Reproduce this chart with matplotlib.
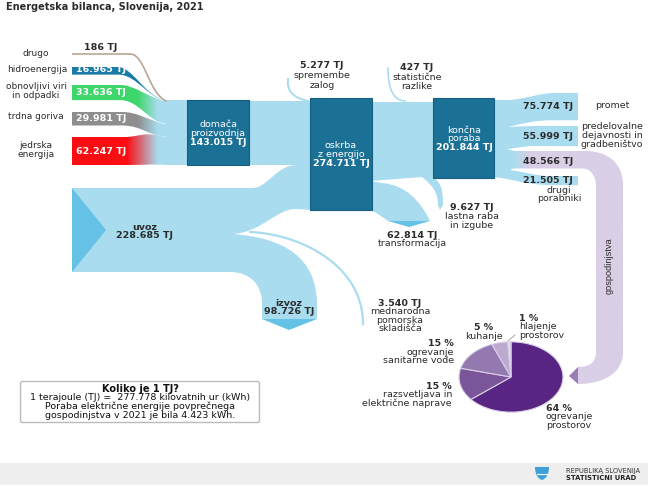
import numpy as np
import matplotlib
matplotlib.use('Agg')
import matplotlib.pyplot as plt
from matplotlib.path import Path
from matplotlib.patches import PathPatch, Rectangle, FancyBboxPatch
from matplotlib.colors import to_rgb

# Values in TJ
source_names = ['hidroenergija', 'obnovljivi viri\nin odpadki', 'trdna goriva', 'jedrska\nenergija']
source_values = [16965, 33636, 29981, 62247]
source_colors = ['#1a7ca6', '#3ed66b', '#8e8e8e', '#fb0d12']
other_value = 186
domestic = 143015
imports = 228685
exports = 98726
supply = 274711
final_use = 201844
stock_change = 5277
stat_diff = 427
transformation = 62814
own_use = 9627
bunkers = 3540
use_names = ['promet', 'predelovalne', 'gospodinjstva', 'drugi']
use_values = [75774, 55999, 48566, 21505]
pie_values = [64, 15, 15, 5, 1]
pie_colors = ['#592583', '#7a5599', '#9478b0', '#bcaad0', '#e2daec']

LIGHT = '#a9dcef'
MID = '#65c2e6'
BOX = '#1b7096'
PURPLE = '#d9cfe6'
TXT = '#2b2b2b'
SRC_SCALE = 0.00045
USE_SCALE = 0.00036

M, L, C, Z = Path.MOVETO, Path.LINETO, Path.CURVE4, Path.CLOSEPOLY

plt.rcParams['font.family'] = ['DejaVu Sans']
fig = plt.figure(figsize=(6.48, 4.86), dpi=100)
ax = fig.add_axes([0, 0, 1, 1])
ax.set_xlim(0, 648)
ax.set_ylim(486, 0)
ax.axis('off')


def tj(v):
    return f'{v:,}'.replace(',', '.') + ' TJ'


def shape(*segs, color=LIGHT, z=1):
    # segs: (x, y) line point, or three points for a cubic
    verts, codes = [], []
    for s in segs:
        if isinstance(s[0], tuple):
            verts += list(s)
            codes += [C, C, C]
        else:
            verts.append(s)
            codes.append(L if verts[:-1] else M)
    verts.append(verts[0])
    codes.append(Z)
    p = PathPatch(Path(verts, codes), fc=color, ec='none', lw=0, zorder=z)
    ax.add_patch(p)
    return p


def fade(patch, x0, x1, c0, c1, xa, xb, z=1):
    # horizontal colour fade clipped to a band
    cols = np.array([to_rgb(c0), to_rgb(c1)])
    t = np.clip((np.linspace(x0, x1, 200) - xa) / (xb - xa), 0, 1)[None, :, None]
    img = cols[0] * (1 - t) + cols[1] * t
    ys = patch.get_path().vertices[:, 1]
    im = ax.imshow(img, extent=(x0, x1, ys.max(), ys.min()),
                   aspect='auto', zorder=z, interpolation='bilinear')
    im.set_clip_path(patch)
    patch.set_facecolor('none')


def label(x, y, s, bold=False, color=TXT, size=6.8, ha='center'):
    ax.text(x, y, s, ha=ha, va='center', color=color, fontsize=size,
            fontweight='bold' if bold else 'normal', linespacing=1.0)


# footer
ax.add_patch(Rectangle((0, 463), 648, 22, fc='#eeeeee', ec='none', zorder=0))

# source bands
tops = [67, 85, 112, 137]
ends = [(100, 101), (101, 124), (124, 137), (137, 165)]
flats = [118, 120, 122, 125]
for v, col, top, (e0, e1), xf in zip(source_values, source_colors, tops, ends, flats):
    h = v * SRC_SCALE
    xe = 168
    p = shape((72, top), (xf, top),
              ((xf + 14, top), (xe - 24, e0 - 6), (xe - 4, e0)), (190, e0), (190, e1), (xe, e1),
              ((xe - 20, e1 - 1), (xf + 20, top + h), (xf, top + h)), (72, top + h))
    fade(p, 72, 190, col, LIGHT, 127 if v > 60000 else 138, 158)

# thin "drugo" line
ax.plot([72, 130], [54, 54], color='#b9a796', lw=1.2, zorder=2, solid_capstyle='butt')
t = np.linspace(0, 1, 40)
bx = (1 - t)**3 * 130 + 3 * (1 - t)**2 * t * 145 + 3 * (1 - t) * t**2 * 148 + t**3 * 166
by = (1 - t)**3 * 54 + 3 * (1 - t)**2 * t * 54 + 3 * (1 - t) * t**2 * 92 + t**3 * 101
ax.plot(bx, by, color='#b9a796', lw=1.2, zorder=2)

# main flows
shape((168, 101), (310, 101), (310, 165), (168, 165))
# imports, with the branch to exports
shape((72, 188), (252, 188), ((268, 188), (276, 165), (297, 165)), (312, 165), (312, 210), (296, 209),
      ((276, 209), (262, 232), (233, 234)),
      ((285, 238), (317, 258), (317, 305)), (317, 319), (262, 319), (262, 303),
      ((262, 285), (250, 272), (230, 272)), (72, 272))
shape((72, 188), (106, 230), (72, 272), color=MID, z=2)
shape((262, 319), (317, 319), (289, 330), color=MID, z=2)

# bunkers line
bu = np.linspace(0, 1, 50)
mx = (1 - bu)**3 * 250 + 3 * (1 - bu)**2 * bu * 300 + 3 * (1 - bu) * bu**2 * 363 + bu**3 * 363
my = (1 - bu)**3 * 232 + 3 * (1 - bu)**2 * bu * 234 + 3 * (1 - bu) * bu**2 * 265 + bu**3 * 324
ax.plot(mx, my, color=LIGHT, lw=1.6, zorder=1)

# stock change and statistical thin lines
ax.plot(*zip(*[(288, 79), (288, 84)]), color=LIGHT, lw=1.5, zorder=1)
s = np.linspace(0, 1, 30)
ax.plot((1 - s)**2 * 288 + 2 * (1 - s) * s * 289 + s**2 * 308,
        (1 - s)**2 * 84 + 2 * (1 - s) * s * 97 + s**2 * 101, color=LIGHT, lw=1.5, zorder=1)
ax.plot((1 - s)**2 * 388 + 2 * (1 - s) * s * 388 + s**2 * 405,
        (1 - s)**2 * 68 + 2 * (1 - s) * s * 100 + s**2 * 101, color=LIGHT, lw=1.2, zorder=1)

# supply to final use
shape((370, 102), (435, 102), (435, 178), (423, 177), (383, 180), (370, 181))
shape((370, 181), (382, 183), ((405, 185), (420, 200), (430, 221)), (388, 221), ((382, 217), (376, 212), (370, 210)))
shape((388, 221), (430, 221), (409, 227), color=MID, z=2)
shape((422, 176), (431, 176), ((441, 182), (443, 188), (443, 205)), (440, 210), (438, 205),
      ((438, 192), (432, 185), (422, 177)))

# final use fan
h_tr, h_in, h_hh, h_ot = [v * USE_SCALE for v in use_values]
shape((492, 100), (510, 100), ((530, 98), (540, 93), (555, 93)), (578, 93), (578, 93 + h_tr),
      (555, 93 + h_tr), ((535, 120), (525, 123), (508, 127)),
      ((520, 126.5), (525, 126), (535, 126)), (578, 126), (578, 126 + h_in), (530, 146), (507, 149),
      (514, 151), (514, 168), (510, 170), ((525, 172), (535, 176), (550, 176)), (578, 176), (578, 176 + h_ot + 1.5),
      (550, 185), ((525, 185), (510, 178), (492, 177)))
hh = shape((512, 151), (585, 151), ((610, 151), (623, 165), (623, 185)), (623, 352),
           ((623, 372), (605, 384), (578, 384)), (578, 367),
           ((590, 367), (596, 362), (596, 352)), (596, 186),
           ((596, 175), (590, 151 + h_hh), (582, 151 + h_hh)), (512, 151 + h_hh), color=PURPLE, z=2)
fade(hh, 512, 623, LIGHT, PURPLE, 512, 530, z=2)
shape((578, 367), (578, 384), (569, 376), color='#9a7db5', z=2)

# boxes
for x0, x1, y0, y1 in [(187, 249, 100, 165), (310, 372, 98, 210), (433, 494, 98, 178)]:
    ax.add_patch(Rectangle((x0, y0), x1 - x0, y1 - y0, fc=BOX, ec='#175f80', lw=0.8, zorder=3))

# labels
label(101, 47.5, tj(other_value), True)
label(36, 54, 'drugo', size=6.5)
label(76, 70, tj(source_values[0]), True, 'white', ha='left')
label(37, 70, source_names[0], size=6.5)
label(76, 92.5, tj(source_values[1]), True, 'white', ha='left')
label(36, 91, source_names[1], size=6.5)
label(76, 118.5, tj(source_values[2]), True, 'white', ha='left')
label(36, 116, source_names[2], size=6.5)
label(76, 151, tj(source_values[3]), True, 'white', ha='left')
label(36, 149.5, source_names[3], size=6.5)

label(218, 124, 'domača', color='white')
label(218, 133, 'proizvodnja', color='white')
label(218, 142, tj(domestic), True, 'white')
label(341, 145.5, 'oskrba', color='white')
label(341, 154, 'z energijo', color='white')
label(341, 163, tj(supply), True, 'white')
label(464, 130, 'končna', color='white')
label(464, 138.5, 'poraba', color='white')
label(464, 147, tj(final_use), True, 'white')

label(322, 66, tj(stock_change), True)
label(322, 75.5, 'spremembe')
label(322, 85, 'zalog')
label(417, 68, tj(stat_diff), True)
label(417, 77.5, 'statistične')
label(417, 86.5, 'razlike')
label(548, 106, tj(use_values[0]), True)
label(612, 105, use_names[0])
label(548, 136, tj(use_values[1]), True)
label(612, 126.5, 'predelovalne')
label(612, 135.5, 'dejavnosti in')
label(612, 144, 'gradbeništvo')
label(548, 161, tj(use_values[2]), True)
label(548, 180, tj(use_values[3]), True)
label(559, 190, 'drugi')
label(559, 198.5, 'porabniki')
label(472, 207, tj(own_use), True)
label(472, 216, 'lastna raba')
label(472, 225, 'in izgube')
label(412, 235, tj(transformation), True)
label(412, 243.5, 'transformacija')
label(145, 227, 'uvoz', True)
label(145, 235.5, tj(imports), True)
label(289, 303, 'izvoz', True)
label(289, 311, tj(exports), True)
label(400, 303, tj(bunkers), True)
label(400, 311.5, 'mednarodna')
label(400, 320, 'pomorska')
label(400, 328.5, 'skladišča')
ax.text(609, 266, 'gospodinjstva', rotation=90, ha='center', va='center', fontsize=6.6,
        color=TXT, family='Liberation Sans', zorder=5)

# pie labels
label(519, 318, f'{pie_values[4]} %', True, ha='left')
label(519, 326.5, 'hlajenje', ha='left')
label(519, 335, 'prostorov', ha='left')
label(484, 327, f'{pie_values[3]} %', True)
label(484, 336, 'kuhanje')
label(454, 343, f'{pie_values[2]} %', True, ha='right')
label(454, 352, 'ogrevanje', ha='right')
label(454, 360.5, 'sanitarne vode', ha='right')
label(452, 386, f'{pie_values[1]} %', True, ha='right')
label(452, 394.5, 'razsvetljava in', ha='right')
label(452, 403, 'električne naprave', ha='right')
label(546, 408, f'{pie_values[0]} %', True, ha='left')
label(546, 416.5, 'ogrevanje', ha='left')
label(546, 425, 'prostorov', ha='left')
ax.plot([508, 515], [341, 335], color='#999999', lw=0.6)

# pie, squashed like the original
pax = fig.add_axes([(511 - 52.5) / 648, 1 - (377 + 35.5) / 486, 105 / 648, 71 / 486])
pax.pie(pie_values, colors=pie_colors, startangle=90, counterclock=False, radius=1,
        wedgeprops={'edgecolor': '#d9cfe6', 'linewidth': 0.8})
pax.set_aspect('auto')
pax.set_xlim(-1.01, 1.01)
pax.set_ylim(-1.01, 1.01)

# info box
ax.add_patch(FancyBboxPatch((21, 382), 238, 40, boxstyle='round,pad=0.5,rounding_size=2',
                            fc='white', ec='#bbbbbb', lw=1))
label(140, 388.5, 'Koliko je 1 TJ?', True, color='#111111', size=7.0)
label(140, 397.5, '1 terajoule (TJ) =  277.778 kilovatnih ur (kWh)', color='#111111', size=6.8)
label(140, 406.5, 'Poraba električne energije povprečnega', color='#111111', size=6.8)
label(140, 415.5, 'gospodinjstva v 2021 je bila 4.423 kWh.', color='#111111', size=6.8)

# title and footer
ax.text(6, 7.5, 'Energetska bilanca, Slovenija, 2021', ha='left', va='center', fontsize=7.05,
        fontweight='bold', color=TXT)
shape((535, 467), (549, 467), ((549, 476), (545, 479), (542, 480)), ((539, 479), (535, 476), (535, 467)),
      color='#3f9fd8', z=2)
ax.plot([537, 547], [474, 474], color='white', lw=0.8, zorder=3)
ax.text(566, 471, 'REPUBLIKA SLOVENIJA', fontsize=4.85, color='#333333', va='center', ha='left')
ax.text(566, 477.5, 'STATISTIČNI URAD', fontsize=4.85, fontweight='bold', color='#222222', va='center', ha='left')

ax.set_xlim(0, 648)
ax.set_ylim(486, 0)
fig.savefig('out.png', dpi=100)
